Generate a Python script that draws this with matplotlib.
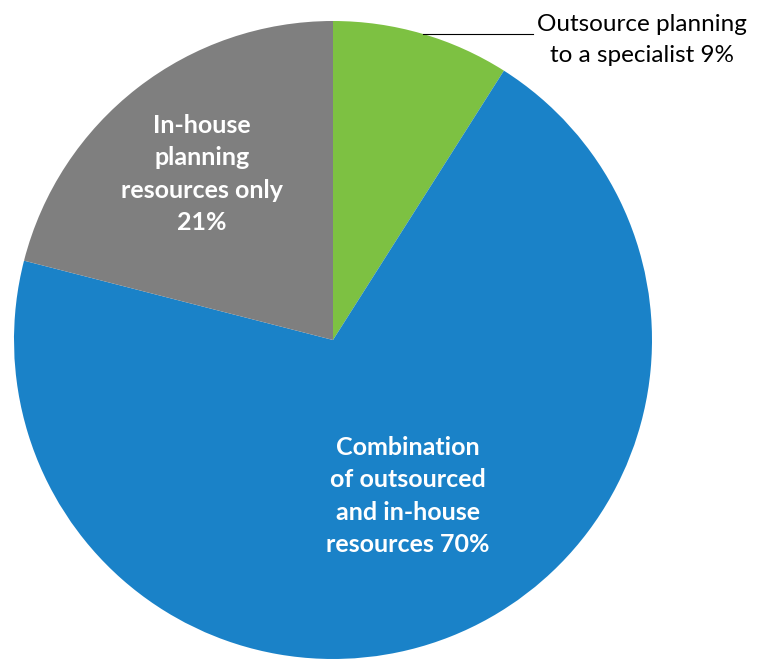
import matplotlib
matplotlib.use("Agg")
import matplotlib.pyplot as plt

categories = ["Outsource planning\nto a specialist 9%",
              "Combination\nof outsourced\nand in-house\nresources 70%",
              "In-house\nplanning\nresources only\n21%"]
values = [9, 70, 21]
colors = ["#7DC142", "#1A82C8", "#7F7F7F"]

W, H = 765, 660
fig = plt.figure(figsize=(W / 100, H / 100), dpi=100)
ax = fig.add_axes([0, 0, 1, 1])
ax.set_xlim(0, W)
ax.set_ylim(0, H)
ax.set_aspect("equal")
ax.axis("off")

cx, cy, r = 333, H - 340, 319
ax.pie(values, colors=colors, startangle=90, counterclock=False,
       center=(cx, cy), radius=r, wedgeprops=dict(linewidth=0))
ax.set_xlim(0, W)
ax.set_ylim(0, H)

font = "Lato"
ax.text(642, H - 40, categories[0], ha="center", va="center", fontsize=17.5,
        family=font, color="#000000", linespacing=1.55)
ax.plot([423, 533], [H - 34, H - 34], color="#000000", lw=0.8)
ax.text(408, H - 496, categories[1], ha="center", va="center", fontsize=18,
        family=font, weight="bold", color="white", linespacing=1.5)
ax.text(202, H - 174, categories[2], ha="center", va="center", fontsize=18,
        family=font, weight="bold", color="white", linespacing=1.5)

fig.savefig("out.png", dpi=100)
